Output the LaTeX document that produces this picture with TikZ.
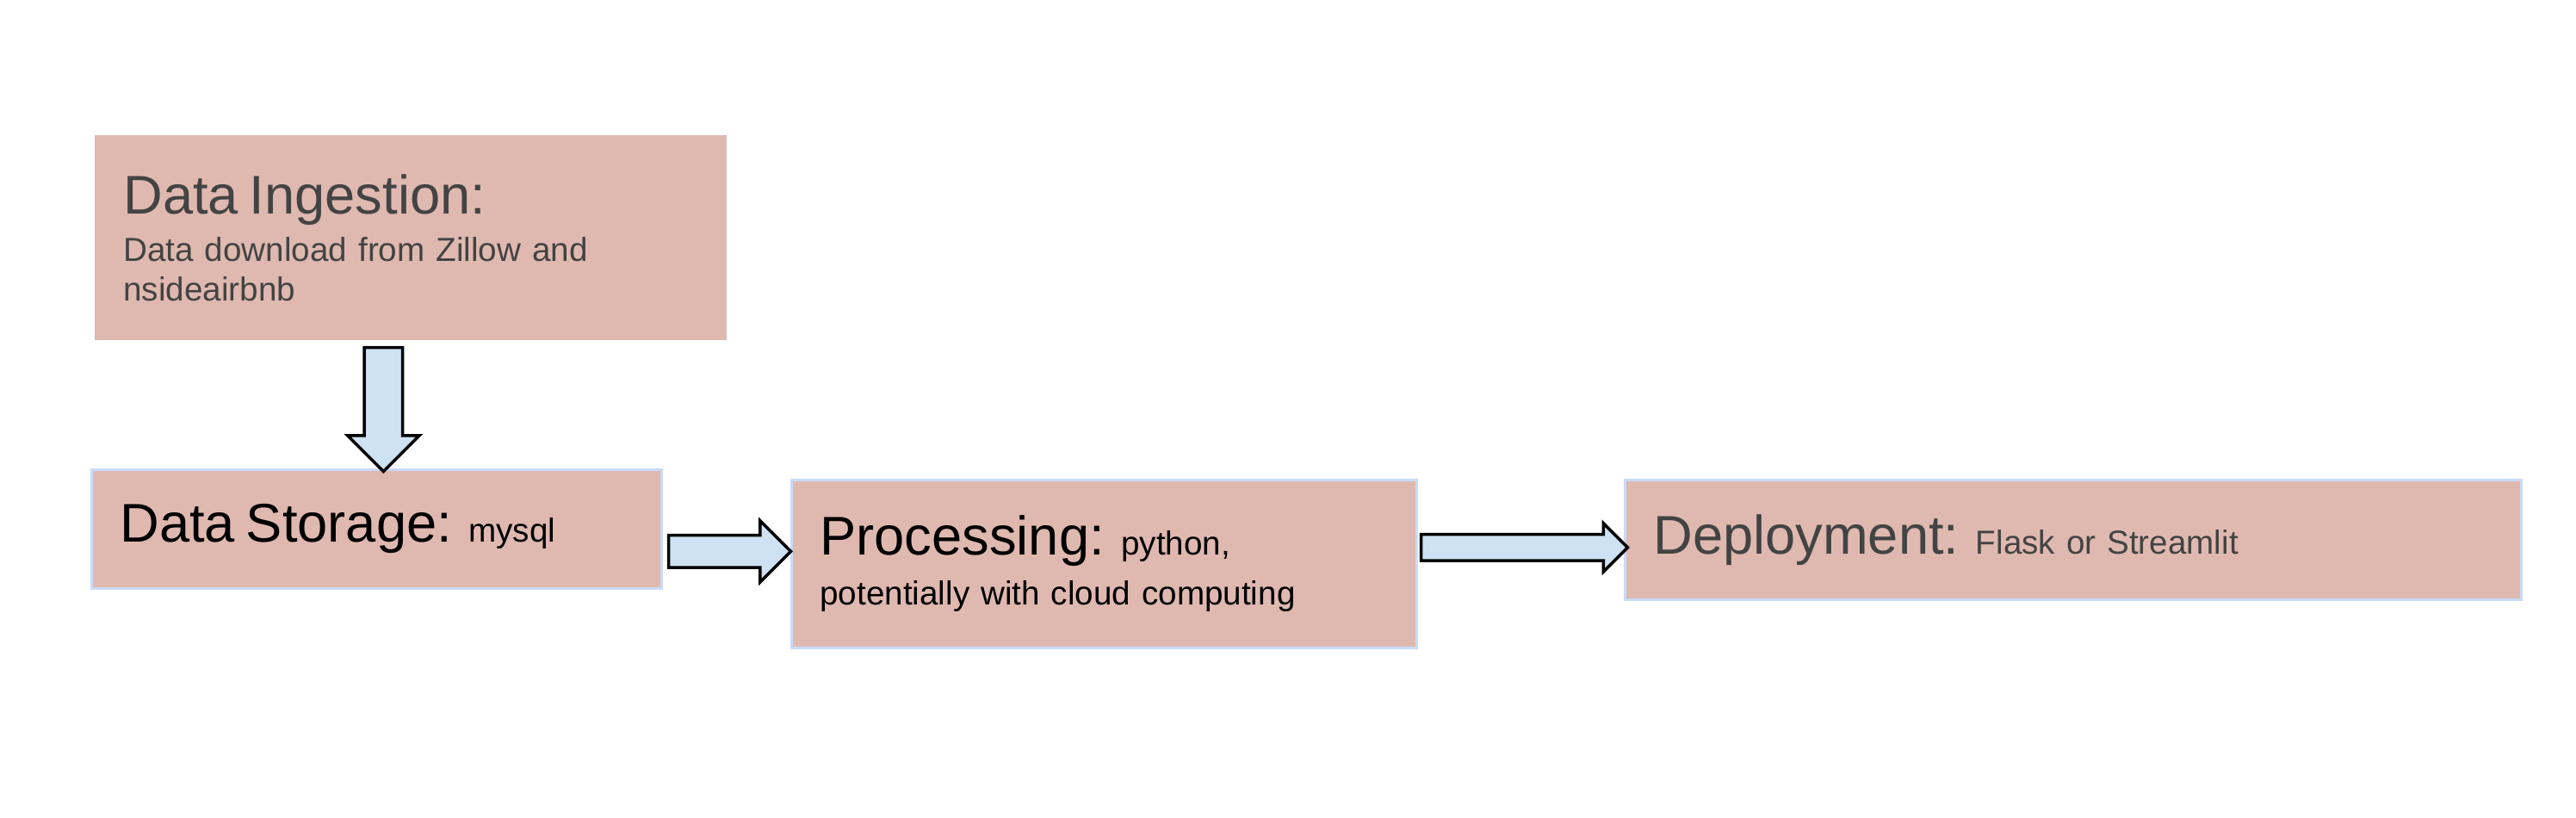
\documentclass[tikz,border=0pt]{standalone}
\usepackage{fontspec}
\setmainfont{Liberation Sans}
\usetikzlibrary{shapes.arrows,calc}
\definecolor{boxfill}{HTML}{DFB9B0}
\definecolor{boxline}{HTML}{C9DAF8}
\definecolor{arrfill}{HTML}{CFE2F3}
\definecolor{textgray}{HTML}{434343}
\newcommand{\bigtxt}{\fontsize{18}{21}\selectfont}
\newcommand{\smalltxt}{\fontsize{11}{13.1}\selectfont}
\begin{document}
\begin{tikzpicture}[
  stage/.style={draw=boxline,line width=0.8pt,fill=boxfill,anchor=north west,inner xsep=0.33cm,inner ysep=0,align=left,font=\smalltxt},
  blockarr/.style={single arrow,draw=black,line width=1pt,fill=arrfill,inner sep=0,text depth=0pt,anchor=tail}
  ]
  \useasboundingbox[fill=white] (0,0) rectangle (29.92,9.5);
  % 
  % Stages
  % 
  \node(ingest)[stage,draw=none,text=textgray,text width=6.68cm,minimum height=2.38cm]at (1.09cm,7.94cm)
    {{\bigtxt Data Ingestion:}\\[2.5pt]Data download from Zillow and\\nsideairbnb};
  \node(store) [stage,text=black,text width=5.96cm,minimum height=1.38cm]at (1.05cm,4.06cm)
    {{\bigtxt Data Storage:} mysql};
  \node(proc)  [stage,text=black,text width=6.60cm,minimum height=1.95cm]at (9.18cm,3.94cm)
    {{\bigtxt Processing:} python,\\[3.4pt]potentially with cloud computing};
  \node(deploy)[stage,text=textgray,text width=9.75cm,minimum height=1.39cm]at (18.86cm,3.94cm)
    {{\bigtxt Deployment:} Flask or Streamlit};
  % 
  % Arrows
  % 
  % ingest -> store
  \node(ar1)[blockarr,rotate=-90,text height=0.41cm,minimum height=1.44cm,minimum width=0.80cm,
    single arrow head extend=0.195cm] at ($(ingest.south)+(-0.32,-0.05)$) {};
  % store -> proc
  \node(ar2)[blockarr,text height=0.34cm,minimum height=1.42cm,minimum width=0.68cm,
    single arrow head extend=0.17cm] at ($(store.east)+(0.05,-0.26)$) {};
  % proc -> deploy
  \node(ar3)[blockarr,text height=0.27cm,minimum height=2.40cm,minimum width=0.53cm,
    single arrow head extend=0.13cm] at ($(proc.east)+(0.02,0.19)$) {};
\end{tikzpicture}
\end{document}
